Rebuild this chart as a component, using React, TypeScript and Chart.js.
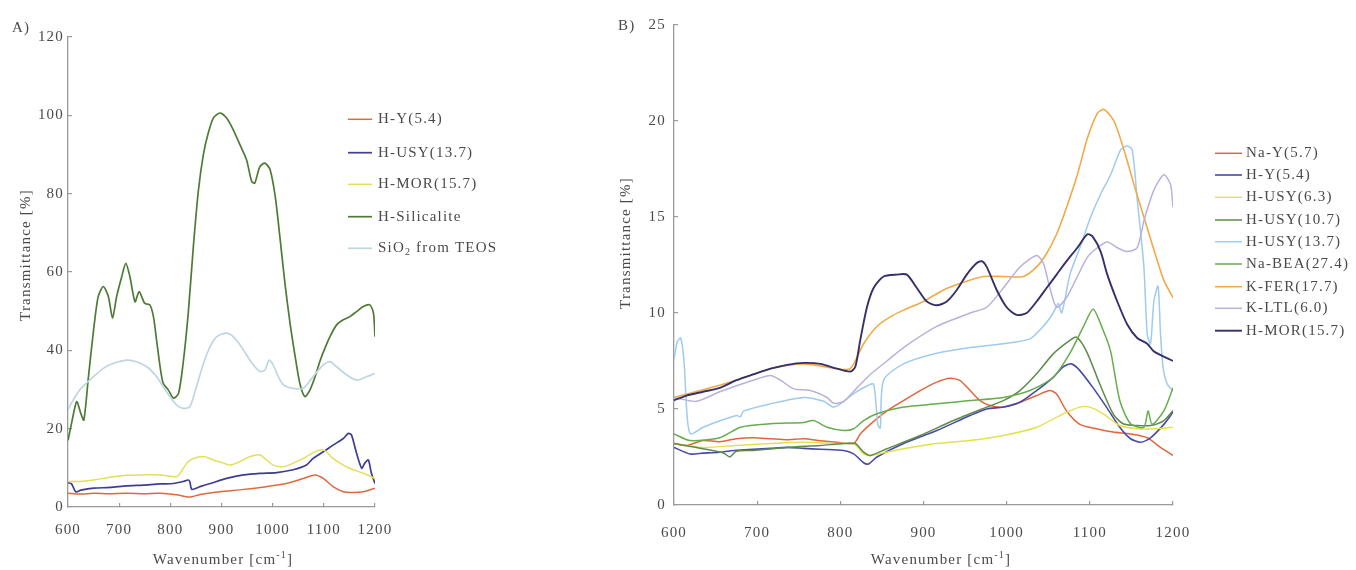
import React, { useEffect, useRef } from "react";
import { Chart, registerables } from "chart.js";

Chart.register(...registerables);

// ---------------- Panel A data: [wavenumber (cm-1), transmittance (%)] ----------------
const aHY54: [number, number][] = [
  [600, 3.5], [623, 3.3], [650, 3.5], [680, 3.4], [715, 3.5], [750, 3.4], [780, 3.5], [812, 3.1], [832, 2.6], [842, 2.6],
  [858, 3.2], [897, 3.9], [943, 4.5], [988, 5.2], [1027, 6.0], [1060, 7.3], [1083, 8.2], [1099, 7.3], [1118, 5.2],
  [1138, 3.9], [1158, 3.7], [1177, 3.9], [1200, 4.8],
];
const aHUSY137: [number, number][] = [
  [600, 6.2], [607, 5.9], [615, 3.9], [625, 4.3], [650, 4.8], [682, 5.0], [715, 5.4], [747, 5.6], [780, 5.9], [806, 6.0],
  [825, 6.5], [835, 6.9], [838, 6.5], [842, 4.5], [858, 5.2], [878, 6.0], [910, 7.3], [943, 8.2], [975, 8.6], [1008, 8.8],
  [1040, 9.5], [1066, 10.7], [1079, 12.4], [1099, 14.1], [1118, 15.8], [1138, 17.5], [1148, 18.8], [1154, 18.4],
  [1164, 13.7], [1174, 9.9], [1180, 11.2], [1187, 12.0], [1193, 8.6], [1200, 6.0],
];
const aHMOR157: [number, number][] = [
  [600, 6.5], [623, 6.5], [650, 6.9], [682, 7.6], [715, 8.1], [747, 8.2], [780, 8.2], [812, 7.7], [819, 8.6], [832, 11.2],
  [845, 12.4], [865, 12.9], [884, 12.0], [904, 11.2], [917, 10.7], [936, 11.6], [956, 12.9], [975, 13.3], [988, 12.0],
  [1001, 10.7], [1021, 10.3], [1040, 11.2], [1060, 12.4], [1079, 13.9], [1096, 14.6], [1105, 14.1], [1118, 12.4],
  [1138, 10.7], [1158, 9.5], [1177, 8.6], [1200, 7.3],
];
const aHSilicalite: [number, number][] = [
  [600, 17.0], [607, 21.4], [617, 26.9], [625, 23.9], [631, 22.2], [640, 33.3], [650, 45.2], [659, 53.7], [669, 56.3],
  [679, 53.7], [687, 48.2], [695, 53.7], [705, 58.8], [713, 62.2], [721, 58.8], [731, 52.4], [739, 55.0], [750, 52.0],
  [760, 51.6], [767, 48.6], [773, 42.7], [780, 35.8], [786, 31.6], [796, 29.9], [806, 27.8], [816, 29.0], [825, 36.7],
  [835, 49.5], [845, 66.5], [855, 81.0], [865, 90.3], [874, 95.4], [884, 99.3], [897, 100.6], [910, 99.3], [923, 96.3],
  [936, 92.5], [949, 88.6], [959, 83.1], [965, 82.7], [975, 86.9], [985, 87.8], [995, 86.1], [1005, 79.3], [1014, 69.1],
  [1024, 57.1], [1034, 46.9], [1044, 38.4], [1053, 31.6], [1063, 28.2], [1073, 29.9], [1083, 33.3], [1092, 37.1],
  [1102, 40.5], [1112, 43.5], [1125, 46.5], [1138, 47.8], [1151, 48.6], [1164, 49.9], [1177, 51.2], [1190, 51.6],
  [1197, 49.5], [1200, 43.5],
];
const aSiO2TEOS: [number, number][] = [
  [600, 24.8], [610, 27.3], [623, 29.9], [636, 31.6], [650, 33.3], [669, 35.4], [689, 36.7], [715, 37.5], [734, 37.1],
  [754, 35.8], [773, 33.3], [786, 30.7], [799, 28.2], [812, 26.1], [825, 25.2], [838, 25.6], [851, 30.7], [865, 36.7],
  [878, 41.0], [891, 43.5], [910, 44.4], [923, 43.5], [936, 41.4], [949, 38.8], [962, 36.3], [975, 34.6], [985, 35.0],
  [993, 37.5], [1001, 36.3], [1011, 33.3], [1021, 31.2], [1040, 30.3], [1060, 30.3], [1079, 33.3], [1099, 36.3],
  [1112, 37.1], [1125, 35.8], [1145, 33.7], [1164, 32.4], [1184, 33.3], [1200, 34.1],
];

// ---------------- Panel B data ----------------
const bNaY57: [number, number][] = [
  [600, 3.2], [615, 3.1], [635, 3.36], [655, 3.3], [675, 3.45], [695, 3.5], [716, 3.45], [736, 3.4], [756, 3.45],
  [776, 3.35], [796, 3.27], [816, 3.2], [824, 3.7], [836, 4.2], [856, 4.9], [876, 5.44], [896, 5.96], [916, 6.4],
  [932, 6.6], [944, 6.48], [956, 5.96], [968, 5.44], [980, 5.18], [996, 5.1], [1016, 5.35], [1036, 5.7], [1052, 5.96],
  [1060, 5.78], [1072, 4.9], [1088, 4.2], [1108, 3.97], [1128, 3.8], [1149, 3.7], [1169, 3.5], [1185, 3.0], [1200, 2.58],
];
const bHY54: [number, number][] = [
  [600, 3.0], [619, 2.66], [635, 2.7], [655, 2.75], [675, 2.85], [695, 2.9], [716, 2.95], [736, 3.0], [756, 2.95],
  [776, 2.9], [804, 2.84], [816, 2.66], [828, 2.2], [834, 2.14], [844, 2.5], [876, 3.2], [916, 3.88], [956, 4.66],
  [976, 5.0], [996, 5.1], [1016, 5.35], [1036, 5.96], [1056, 6.65], [1068, 7.2], [1078, 7.35], [1088, 7.0], [1104, 6.1],
  [1120, 5.1], [1136, 4.05], [1149, 3.45], [1161, 3.27], [1173, 3.5], [1189, 4.2], [1200, 4.83],
];
const bHUSY63: [number, number][] = [
  [600, 3.2], [635, 3.0], [675, 3.1], [716, 3.2], [756, 3.27], [796, 3.2], [816, 3.2], [828, 2.66], [836, 2.58],
  [856, 2.75], [876, 2.93], [916, 3.2], [956, 3.36], [996, 3.62], [1036, 4.05], [1068, 4.75], [1088, 5.1], [1100, 5.1],
  [1116, 4.75], [1136, 4.14], [1157, 3.97], [1177, 3.97], [1200, 4.05],
];
const bHUSY107: [number, number][] = [
  [600, 3.2], [635, 2.93], [660, 2.7], [667, 2.5], [675, 2.8], [695, 2.84], [736, 3.0], [776, 3.1], [804, 3.2],
  [818, 3.2], [828, 2.75], [836, 2.58], [856, 2.93], [896, 3.62], [936, 4.4], [976, 5.1], [996, 5.44], [1016, 5.96],
  [1036, 6.83], [1056, 7.87], [1076, 8.57], [1084, 8.74], [1096, 8.0], [1112, 6.3], [1128, 4.75], [1140, 4.23],
  [1157, 4.14], [1173, 4.14], [1189, 4.4], [1200, 4.92],
];
const bHUSY137: [number, number][] = [
  [600, 7.6], [604, 8.5], [608, 8.7], [612, 7.5], [616, 4.5], [620, 3.7], [635, 4.05], [675, 4.66], [680, 4.6],
  [684, 4.9], [716, 5.27], [756, 5.6], [780, 5.4], [792, 5.1], [804, 5.4], [816, 5.8], [832, 6.2], [840, 6.3],
  [845, 4.2], [848, 4.0], [852, 6.5], [876, 7.35], [916, 7.9], [956, 8.2], [996, 8.4], [1028, 8.65], [1044, 9.3],
  [1056, 10.0], [1062, 10.5], [1066, 10.0], [1070, 10.7], [1076, 12.0], [1088, 13.4], [1101, 15.0], [1113, 16.2],
  [1125, 17.2], [1137, 18.5], [1145, 18.7], [1151, 18.5], [1157, 15.9], [1165, 12.4], [1169, 8.9], [1173, 8.4],
  [1177, 10.6], [1182, 11.4], [1185, 8.9], [1188, 7.2], [1193, 6.3], [1200, 5.96],
];
const bNaBEA274: [number, number][] = [
  [600, 3.7], [619, 3.36], [655, 3.5], [680, 4.05], [716, 4.23], [756, 4.3], [768, 4.4], [784, 4.05], [804, 3.88],
  [816, 3.97], [828, 4.4], [844, 4.75], [876, 5.1], [916, 5.27], [956, 5.44], [996, 5.6], [1028, 5.96], [1056, 6.65],
  [1076, 7.9], [1092, 9.26], [1104, 10.2], [1116, 9.1], [1125, 8.0], [1136, 5.44], [1149, 4.23], [1165, 4.05],
  [1170, 4.9], [1175, 4.2], [1189, 4.9], [1200, 6.1],
];
const bKFER177: [number, number][] = [
  [600, 5.6], [635, 6.0], [675, 6.5], [716, 7.1], [756, 7.35], [796, 7.1], [812, 7.1], [828, 8.4], [844, 9.3],
  [860, 9.8], [876, 10.15], [900, 10.6], [924, 11.2], [948, 11.6], [972, 11.9], [996, 11.9], [1020, 11.9], [1036, 12.4],
  [1048, 13.1], [1060, 14.1], [1072, 15.5], [1085, 17.2], [1097, 19.1], [1109, 20.4], [1117, 20.6], [1129, 20.0],
  [1141, 18.5], [1153, 16.7], [1165, 15.0], [1177, 13.3], [1189, 11.7], [1200, 10.8],
];
const bKLTL60: [number, number][] = [
  [600, 5.6], [627, 5.4], [655, 5.9], [695, 6.5], [716, 6.75], [728, 6.5], [744, 6.05], [764, 5.96], [784, 5.6],
  [792, 5.3], [804, 5.4], [820, 6.1], [836, 6.8], [856, 7.5], [876, 8.2], [916, 9.3], [956, 10.0], [976, 10.3],
  [996, 11.3], [1016, 12.4], [1036, 13.0], [1044, 12.6], [1052, 11.3], [1060, 10.3], [1072, 10.8], [1085, 11.9],
  [1097, 12.9], [1109, 13.4], [1121, 13.7], [1133, 13.4], [1145, 13.2], [1157, 13.4], [1165, 14.8], [1177, 16.4],
  [1189, 17.2], [1197, 16.7], [1200, 15.5],
];
const bHMOR157: [number, number][] = [
  [600, 5.45], [615, 5.7], [635, 5.9], [655, 6.1], [675, 6.5], [695, 6.8], [716, 7.1], [736, 7.3], [756, 7.4],
  [776, 7.35], [796, 7.1], [812, 6.95], [818, 7.2], [824, 8.6], [832, 10.3], [840, 11.3], [852, 11.9], [868, 12.0],
  [880, 12.0], [892, 11.3], [904, 10.6], [916, 10.4], [928, 10.6], [940, 11.2], [952, 12.0], [964, 12.6], [970, 12.7],
  [976, 12.4], [988, 11.2], [1000, 10.3], [1012, 9.9], [1024, 10.0], [1036, 10.6], [1048, 11.3], [1060, 12.0],
  [1072, 12.7], [1085, 13.4], [1097, 14.1], [1103, 14.0], [1113, 13.2], [1121, 12.0], [1133, 10.6], [1145, 9.4],
  [1157, 8.7], [1169, 8.4], [1177, 8.0], [1200, 7.5],
];

// ---------------- axis settings ----------------
const xMin = 600;
const xMax = 1200;
const xStep = 100;
const aYMax = 120;
const aYStep = 20;
const bYMax = 25;
const bYStep = 5;

const FONT_FAMILY = '"Liberation Serif", "Times New Roman", serif';
const TEXT_COLOR = "#4a4a4a";
const AXIS_COLOR = "#9a9a9a";
const FONT_SIZE = 15;
const LETTER_SPACING = "1.2px";

type Series = { label: string; color: string; width: number; points: [number, number][] };

const panelA: Series[] = [
  { label: "H-Y(5.4)", color: "#e0683e", width: 1.5, points: aHY54 },
  { label: "H-USY(13.7)", color: "#3d3d98", width: 1.7, points: aHUSY137 },
  { label: "H-MOR(15.7)", color: "#e2e05a", width: 1.5, points: aHMOR157 },
  { label: "H-Silicalite", color: "#4f7a36", width: 1.7, points: aHSilicalite },
  { label: "SiO₂ from TEOS", color: "#bfd6df", width: 1.7, points: aSiO2TEOS },
];

const panelB: Series[] = [
  { label: "Na-Y(5.7)", color: "#e0673c", width: 1.5, points: bNaY57 },
  { label: "H-Y(5.4)", color: "#4a4aa6", width: 1.6, points: bHY54 },
  { label: "H-USY(6.3)", color: "#e4e04e", width: 1.4, points: bHUSY63 },
  { label: "H-USY(10.7)", color: "#5f8a4c", width: 1.5, points: bHUSY107 },
  { label: "H-USY(13.7)", color: "#9ecbef", width: 1.5, points: bHUSY137 },
  { label: "Na-BEA(27.4)", color: "#66ad4e", width: 1.5, points: bNaBEA274 },
  { label: "K-FER(17.7)", color: "#f0aa48", width: 1.6, points: bKFER177 },
  { label: "K-LTL(6.0)", color: "#b9b1dc", width: 1.5, points: bKLTL60 },
  { label: "H-MOR(15.7)", color: "#34306c", width: 1.9, points: bHMOR157 },
];

type Seg = { t: string; k: number };

function parseRich(s: string): Seg[] {
  const segs: Seg[] = [];
  let buf = "";
  for (let i = 0; i < s.length; i++) {
    const c = s[i];
    if (c === "₂") {
      if (buf) segs.push({ t: buf, k: 0 });
      buf = "";
      segs.push({ t: "2", k: 1 });
    } else if (c === "⁻") {
      if (buf) segs.push({ t: buf, k: 0 });
      buf = "";
      segs.push({ t: "-1", k: 2 });
      i++;
    } else buf += c;
  }
  if (buf) segs.push({ t: buf, k: 0 });
  return segs;
}

function drawRich(ctx: CanvasRenderingContext2D, s: string, x: number, y: number, size: number, align: "left" | "center") {
  const segs = parseRich(s);
  const fontFor = (k: number) => `${k ? Math.round(size * 0.68) : size}px ${FONT_FAMILY}`;
  let total = 0;
  const widths = segs.map((sg) => {
    ctx.font = fontFor(sg.k);
    const w = ctx.measureText(sg.t).width;
    total += w;
    return w;
  });
  let cx = align === "center" ? x - total / 2 : x;
  ctx.textBaseline = "middle";
  ctx.textAlign = "left";
  segs.forEach((sg, i) => {
    ctx.font = fontFor(sg.k);
    const dy = sg.k === 1 ? size * 0.28 : sg.k === 2 ? -size * 0.3 : 0;
    ctx.fillText(sg.t, cx, y + dy);
    cx += widths[i];
  });
}

type Anno = {
  panel: string;
  panelPos: [number, number];
  yTitlePos: [number, number];
  xTitlePos: [number, number];
  legendLine: [number, number];
  legendText: number;
  legendRows: number[];
};

function annoPlugin(series: Series[], a: Anno) {
  return {
    id: "annotations",
    beforeDraw(chart: any) {
      (chart.ctx as any).letterSpacing = LETTER_SPACING;
    },
    afterDraw(chart: any) {
      const ctx: CanvasRenderingContext2D = chart.ctx;
      ctx.save();
      (ctx as any).letterSpacing = LETTER_SPACING;
      ctx.fillStyle = TEXT_COLOR;
      drawRich(ctx, a.panel, a.panelPos[0], a.panelPos[1], FONT_SIZE, "left");
      drawRich(ctx, "Wavenumber [cm⁻¹]", a.xTitlePos[0], a.xTitlePos[1], FONT_SIZE, "center");
      ctx.save();
      ctx.translate(a.yTitlePos[0], a.yTitlePos[1]);
      ctx.rotate(-Math.PI / 2);
      drawRich(ctx, "Transmittance [%]", 0, 0, FONT_SIZE, "center");
      ctx.restore();
      series.forEach((s, i) => {
        const y = a.legendRows[i];
        ctx.strokeStyle = s.color;
        ctx.lineWidth = s.width;
        ctx.beginPath();
        ctx.moveTo(a.legendLine[0], y);
        ctx.lineTo(a.legendLine[1], y);
        ctx.stroke();
        ctx.fillStyle = TEXT_COLOR;
        drawRich(ctx, s.label, a.legendText, y, FONT_SIZE, "left");
      });
      ctx.restore();
    },
  };
}

function buildConfig(
  series: Series[],
  yMax: number,
  yStep: number,
  yWidth: number,
  xHeight: number,
  padTop: number,
  padRight: number,
  yLabelPad: number,
  xLabelPad: number,
  anno: Anno
): any {
  const tickFont = { family: FONT_FAMILY, size: FONT_SIZE };
  const grid = { drawOnChartArea: false, drawTicks: true, tickLength: -4, color: AXIS_COLOR, lineWidth: 1.2 };
  const border = { display: true, color: AXIS_COLOR, width: 1.3 };
  return {
    type: "line",
    data: {
      datasets: series.map((s, i) => ({
        label: s.label,
        data: s.points.map(([x, y]) => ({ x, y })),
        borderColor: s.color,
        backgroundColor: s.color,
        borderWidth: s.width,
        pointRadius: 0,
        tension: 0.25,
        fill: false,
        order: -i,
      })),
    },
    options: {
      animation: false,
      responsive: false,
      maintainAspectRatio: false,
      events: [],
      layout: { padding: { left: 0, top: padTop, right: padRight, bottom: 0 } },
      plugins: { legend: { display: false }, tooltip: { enabled: false }, title: { display: false } },
      scales: {
        x: {
          type: "linear",
          min: xMin,
          max: xMax,
          ticks: {
            stepSize: xStep,
            color: TEXT_COLOR,
            font: tickFont,
            padding: xLabelPad,
            maxRotation: 0,
            autoSkip: false,
            callback: (v: any) => String(v),
          },
          grid,
          border,
          afterFit: (s: any) => {
            s.height = xHeight;
          },
        },
        y: {
          type: "linear",
          min: 0,
          max: yMax,
          ticks: {
            stepSize: yStep,
            color: TEXT_COLOR,
            font: tickFont,
            padding: yLabelPad,
            autoSkip: false,
            callback: (v: any) => String(v),
          },
          grid,
          border,
          afterFit: (s: any) => {
            s.width = yWidth;
          },
        },
      },
    },
    plugins: [annoPlugin(series, anno)],
  };
}

const A_LEFT = 0;
const A_WIDTH = 590;
const B_LEFT = 590;
const B_WIDTH = 766;
const HEIGHT = 570;

export default function App() {
  const refA = useRef<HTMLCanvasElement | null>(null);
  const refB = useRef<HTMLCanvasElement | null>(null);

  useEffect(() => {
    const cfgA = buildConfig(panelA, aYMax, aYStep, 68, HEIGHT - 507, 37, A_WIDTH - 375, 8, 18, {
      panel: "A)",
      panelPos: [12, 28],
      yTitlePos: [26, 255],
      xTitlePos: [223, 560],
      legendLine: [348, 372],
      legendText: 378,
      legendRows: [119.3, 152.7, 184.3, 216.7, 248.3],
    });
    const cfgB = buildConfig(panelB, bYMax, bYStep, 674 - B_LEFT, 65, 25, B_WIDTH - (1173 - B_LEFT), 12, 23, {
      panel: "B)",
      panelPos: [618 - B_LEFT, 26],
      yTitlePos: [626 - B_LEFT, 243],
      xTitlePos: [941 - B_LEFT, 560],
      legendLine: [1215 - B_LEFT, 1242 - B_LEFT],
      legendText: 1246 - B_LEFT,
      legendRows: [153.3, 175, 197.3, 220, 241.7, 264, 286.7, 308.3, 330.7],
    });
    const chartA = new Chart(refA.current as HTMLCanvasElement, cfgA);
    const chartB = new Chart(refB.current as HTMLCanvasElement, cfgB);
    return () => {
      chartA.destroy();
      chartB.destroy();
    };
  }, []);

  return (
    <div style={{ position: "fixed", left: 0, top: 0, width: 1356, height: HEIGHT, background: "#ffffff" }}>
      <canvas
        ref={refA}
        width={A_WIDTH}
        height={HEIGHT}
        style={{ position: "absolute", left: A_LEFT, top: 0, width: A_WIDTH, height: HEIGHT, display: "block" }}
      />
      <canvas
        ref={refB}
        width={B_WIDTH}
        height={HEIGHT}
        style={{ position: "absolute", left: B_LEFT, top: 0, width: B_WIDTH, height: HEIGHT, display: "block" }}
      />
    </div>
  );
}
